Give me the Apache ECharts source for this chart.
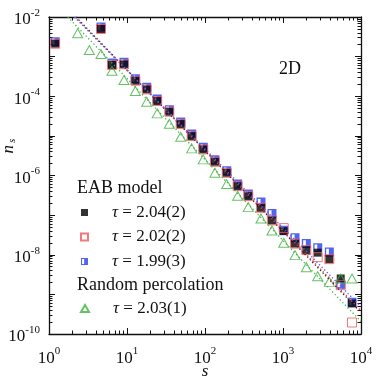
<!DOCTYPE html>
<html>
<head>
<meta charset="utf-8">
<title>n_s vs s</title>
<script src="https://cdn.jsdelivr.net/npm/echarts@6/dist/echarts.min.js"></script>
<style>
  html, body { margin: 0; padding: 0; background: #fff; }
  #chart { width: 382px; height: 382px; }
</style>
</head>
<body>
<div id="chart"></div>
<script>
// cluster sizes (log bins) and n_s
var eabSizes = [1.2, 4.64, 6.42, 9.15, 12.8, 17.9, 24.4, 34.9, 48.8, 67.5, 95, 134, 190, 262, 359, 522, 722, 1021, 1426, 1990, 2787, 3925, 5495, 7670];
var eabBlack = [2.12e-3, 4.98e-3, 6.14e-4, 6.39e-4, 2.46e-4, 1.49e-4, 7.57e-5, 4.06e-5, 1.99e-5, 9.89e-6, 4.56e-6, 2.22e-6, 1.17e-6, 5.40e-7, 3.02e-7, 1.53e-7, 7.35e-8, 3.94e-8, 1.91e-8, 1.31e-8, 1.13e-8, 7.74e-9, 2.52e-9, 5.89e-10];
var eabRed = [2.12e-3, 4.98e-3, 6.14e-4, 6.39e-4, 2.46e-4, 1.49e-4, 7.57e-5, 4.06e-5, 1.99e-5, 9.89e-6, 4.56e-6, 2.22e-6, 1.17e-6, 5.40e-7, 3.02e-7, 1.53e-7, 7.35e-8, 4.70e-8, 1.91e-8, 1.31e-8, 8.70e-9, 7.74e-9, 1.71e-9, 1.95e-10];
var eabBlue = [2.38e-3, 5.59e-3, 6.89e-4, 7.18e-4, 2.77e-4, 1.68e-4, 8.50e-5, 4.56e-5, 2.23e-5, 1.11e-5, 5.13e-6, 2.49e-6, 1.32e-6, 6.07e-7, 3.39e-7, 2.13e-7, 1.10e-7, 4.18e-8, 2.70e-8, 1.93e-8, 1.51e-8, 1.18e-8, 1.81e-9, 6.35e-10];
var rpSizes = [2.33, 3.29, 4.64, 6.42, 9.15, 12.8, 17.9, 24.4, 34.9, 48.8, 67.5, 95, 134, 190, 262, 359, 522, 722, 1021, 1426, 1990, 2787, 3925, 5495, 7670];
var rpValues = [3.88e-3, 1.47e-3, 1.16e-3, 4.40e-4, 2.56e-4, 1.35e-4, 7.26e-5, 3.70e-5, 2.02e-5, 9.49e-6, 4.83e-6, 2.55e-6, 1.17e-6, 6.07e-7, 3.07e-7, 1.59e-7, 8.26e-8, 4.11e-8, 2.00e-8, 9.77e-9, 4.86e-9, 2.88e-9, 2.07e-9, 2.52e-9, 2.52e-9];

// power-law fits, end points [s, n_s]
var fitBlack = [[2.22, 1e-2], [1e4, 3.5e-10]];
var fitRed = [[2.15, 1e-2], [1e4, 3.9e-10]];
var fitBlue = [[2.12, 1e-2], [1e4, 4.9e-10]];
var fitGreen = [[1.74, 1e-2], [1e4, 2.07e-10]];

var tauLabels = ["2.04(2)", "2.02(2)", "1.99(3)", "2.03(1)"];
var groupTitles = ["EAB model", "Random percolation"];
var xLabelPowers = [0, 1, 2, 3, 4];
var yLabelPowers = [-2, -4, -6, -8, -10];

var serif = "'Liberation Serif', 'DejaVu Serif', serif";
var ink = "#111";

function pairs(xs, ys) {
	return xs.map(function (x, i) { return [x, ys[i]]; });
}

function powLabel(powers) {
	return function (v) {
		var p = Math.round(Math.log10(v));
		if (powers.indexOf(p) < 0) return "";
		return "{b|10}{s|" + p + "}";
	};
}

var labelRich = {
	b: { fontSize: 17, fontFamily: serif, color: ink },
	s: { fontSize: 11, fontFamily: serif, color: ink, padding: [0, 0, 14, 0] }
};

function logAxis(extra) {
	var ax = {
		type: "log",
		logBase: 10,
		axisLine: { lineStyle: { color: ink, width: 1.3 } },
		axisTick: { inside: true, length: 6, lineStyle: { color: ink, width: 1 } },
		minorTick: { show: true, splitNumber: 9, length: 3.5, lineStyle: { color: ink, width: 1 } },
		splitLine: { show: false },
		minorSplitLine: { show: false }
	};
	return Object.assign(ax, extra);
}

// blue marker: square with an open stripe on the left
var halfSquare = "path://M0,0L10,0L10,10L0,10Z M1.5,1.5L1.5,8.5L4.5,8.5L4.5,1.5Z";

var legendText = {
	fontSize: 17,
	fontFamily: serif,
	color: ink,
	lineHeight: 18,
	rich: {
		sp: { width: 19 },
		t: { fontSize: 17, fontFamily: serif, fontStyle: "italic", color: ink }
	}
};
function legendFmt(name) {
	return "{sp|}{t|τ} = " + name;
}

var chart = echarts.init(document.getElementById("chart"));
var option = {
	animation: false,
	grid: { left: 49, right: 21, top: 17, bottom: 48, outerBoundsMode: "none", containLabel: false },
	xAxis: [
		logAxis({
			min: 1, max: 1e4, splitNumber: 4,
			name: "s", nameLocation: "middle", nameGap: 29, nameMoveOverlap: false,
			nameTextStyle: { fontSize: 17, fontFamily: serif, fontStyle: "italic", color: ink },
			axisLabel: { margin: 12, formatter: powLabel(xLabelPowers), rich: labelRich }
		}),
		logAxis({ min: 1, max: 1e4, splitNumber: 4, position: "top", axisLabel: { show: false } })
	],
	yAxis: [
		logAxis({
			min: 1e-10, max: 1e-2, splitNumber: 8,
			axisLabel: { margin: 9, padding: [6, 0, 0, 0], formatter: powLabel(yLabelPowers), rich: labelRich }
		}),
		logAxis({ min: 1e-10, max: 1e-2, splitNumber: 8, position: "right", axisLabel: { show: false } })
	],
	legend: [
		{
			data: [tauLabels[0], tauLabels[1], tauLabels[2]],
			orient: "vertical", left: 80, top: 203.5, padding: 0,
			itemWidth: 7, itemHeight: 7, itemGap: 6.5,
			selectedMode: false, formatter: legendFmt, textStyle: legendText
		},
		{
			data: [tauLabels[3]],
			orient: "vertical", left: 80, top: 299.5, padding: 0,
			itemWidth: 8, itemHeight: 7,
			selectedMode: false, formatter: legendFmt, textStyle: legendText
		}
	],
	graphic: [
		{ type: "text", left: 77, top: 179, style: { text: groupTitles[0], fontSize: 18, fontFamily: serif, fill: ink } },
		{ type: "text", left: 77, top: 276, style: { text: groupTitles[1], fontSize: 18, fontFamily: serif, fill: ink } },
		{ type: "text", left: 279, top: 60, style: { text: "2D", fontSize: 18, fontFamily: serif, fill: ink } },
		{
			type: "text", x: 9, y: 146, rotation: Math.PI / 2,
			style: {
				text: "{n|n}{s|s}", align: "center", verticalAlign: "middle",
				rich: {
					n: { fontSize: 17, fontFamily: serif, fontStyle: "italic", fill: ink },
					s: { fontSize: 11, fontFamily: serif, fontStyle: "italic", fill: ink, padding: [6, 0, 0, 2] }
				}
			}
		}
	],
	series: [
		{ name: "fit black", type: "line", data: fitBlack, symbol: "none", silent: true,
			lineStyle: { color: "#222", width: 1.3, type: [1.3, 2.4] } },
		{ name: "fit red", type: "line", data: fitRed, symbol: "none", silent: true,
			lineStyle: { color: "#f03a3a", width: 1.3, type: [1.3, 2.4] } },
		{ name: "fit blue", type: "line", data: fitBlue, symbol: "none", silent: true,
			lineStyle: { color: "#4a63f5", width: 1.3, type: [1.3, 2.4] } },
		{ name: "fit green", type: "line", data: fitGreen, symbol: "none", silent: true,
			lineStyle: { color: "#45b545", width: 1.3, type: [1.3, 2.4] } },
		{ name: tauLabels[2], type: "scatter", data: pairs(eabSizes, eabBlue),
			symbol: halfSquare, symbolSize: 9, itemStyle: { color: "#2a3cf2" } },
		{ name: tauLabels[0], type: "scatter", data: pairs(eabSizes, eabBlack),
			symbol: "rect", symbolSize: 8, itemStyle: { color: "#000" } },
		{ name: tauLabels[1], type: "scatter", data: pairs(eabSizes, eabRed),
			symbol: "rect", symbolSize: 9,
			itemStyle: { color: "rgba(255,255,255,0)", borderColor: "#f25555", borderWidth: 1 } },
		{ name: tauLabels[3], type: "scatter", data: pairs(rpSizes, rpValues),
			symbol: "triangle", symbolSize: [10, 9],
			itemStyle: { color: "rgba(255,255,255,0)", borderColor: "#3fb23f", borderWidth: 1 } }
	]
};
chart.setOption(option);
</script>
</body>
</html>
